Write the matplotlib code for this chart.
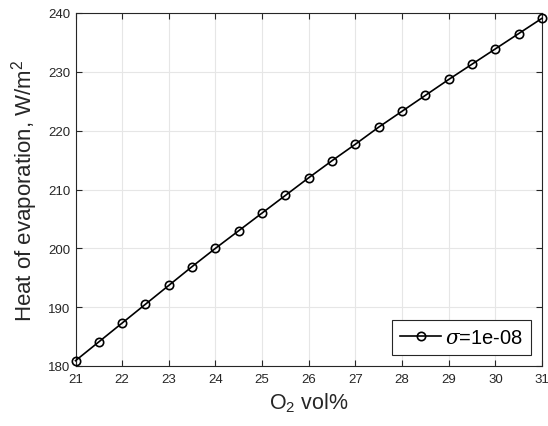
import matplotlib
matplotlib.use("Agg")
import matplotlib.pyplot as plt

o2_vol = [21, 21.5, 22, 22.5, 23, 23.5, 24, 24.5, 25, 25.5, 26, 26.5, 27, 27.5,
          28, 28.5, 29, 29.5, 30, 30.5, 31]
heat = [180.9, 184.1, 187.3, 190.5, 193.7, 196.9, 200.0, 203.0, 206.0, 209.0, 212.0,
        214.9, 217.7, 220.6, 223.3, 226.0, 228.7, 231.3, 233.9, 236.5, 239.1]
xticks = list(range(21, 32))
yticks = list(range(180, 241, 10))

plt.rcParams['font.family'] = ['Liberation Sans', 'DejaVu Sans']
plt.rcParams['mathtext.fontset'] = 'custom'
plt.rcParams['mathtext.rm'] = 'Liberation Sans'
plt.rcParams['mathtext.it'] = 'DejaVu Serif:italic'

fig = plt.figure(figsize=(5.48, 4.27), dpi=100)
ax = fig.add_axes([75.5/548, 1 - 367/427, (542 - 75.5)/548, (367 - 14)/427])

ax.plot(o2_vol, heat, color='black', lw=1.2, marker='o', ms=6, mfc='none',
        mec='black', mew=1.2, label=r'$\sigma$=1e-08', clip_on=False, zorder=3)

ax.set_xlim(21, 31)
ax.set_ylim(180, 240)
ax.set_xticks(xticks)
ax.set_yticks(yticks)
ax.tick_params(direction='in', length=4.5, width=0.8, colors='#262626', labelsize=9.5,
               top=True, right=True)
ax.tick_params(axis='x', pad=5)
ax.grid(True, color='#e6e6e6', lw=0.8)
ax.set_axisbelow(True)
for s in ax.spines.values():
    s.set_color('#262626')
    s.set_linewidth(0.8)

ax.set_xlabel(r'O$_{\mathrm{2}}$ vol%', fontsize=15.5, color='#262626', labelpad=4)
ax.set_ylabel(r'Heat of evaporation, W/m$^{\mathrm{2}}$', fontsize=16, color='#262626', labelpad=6)

leg = ax.legend(loc='lower right', fontsize=14.5, frameon=True, fancybox=False,
                edgecolor='#262626', framealpha=1, handlelength=2.0,
                borderaxespad=0.55, borderpad=0.4, handletextpad=0.2)
leg.get_frame().set_linewidth(0.8)

fig.savefig('out.png', dpi=100)
